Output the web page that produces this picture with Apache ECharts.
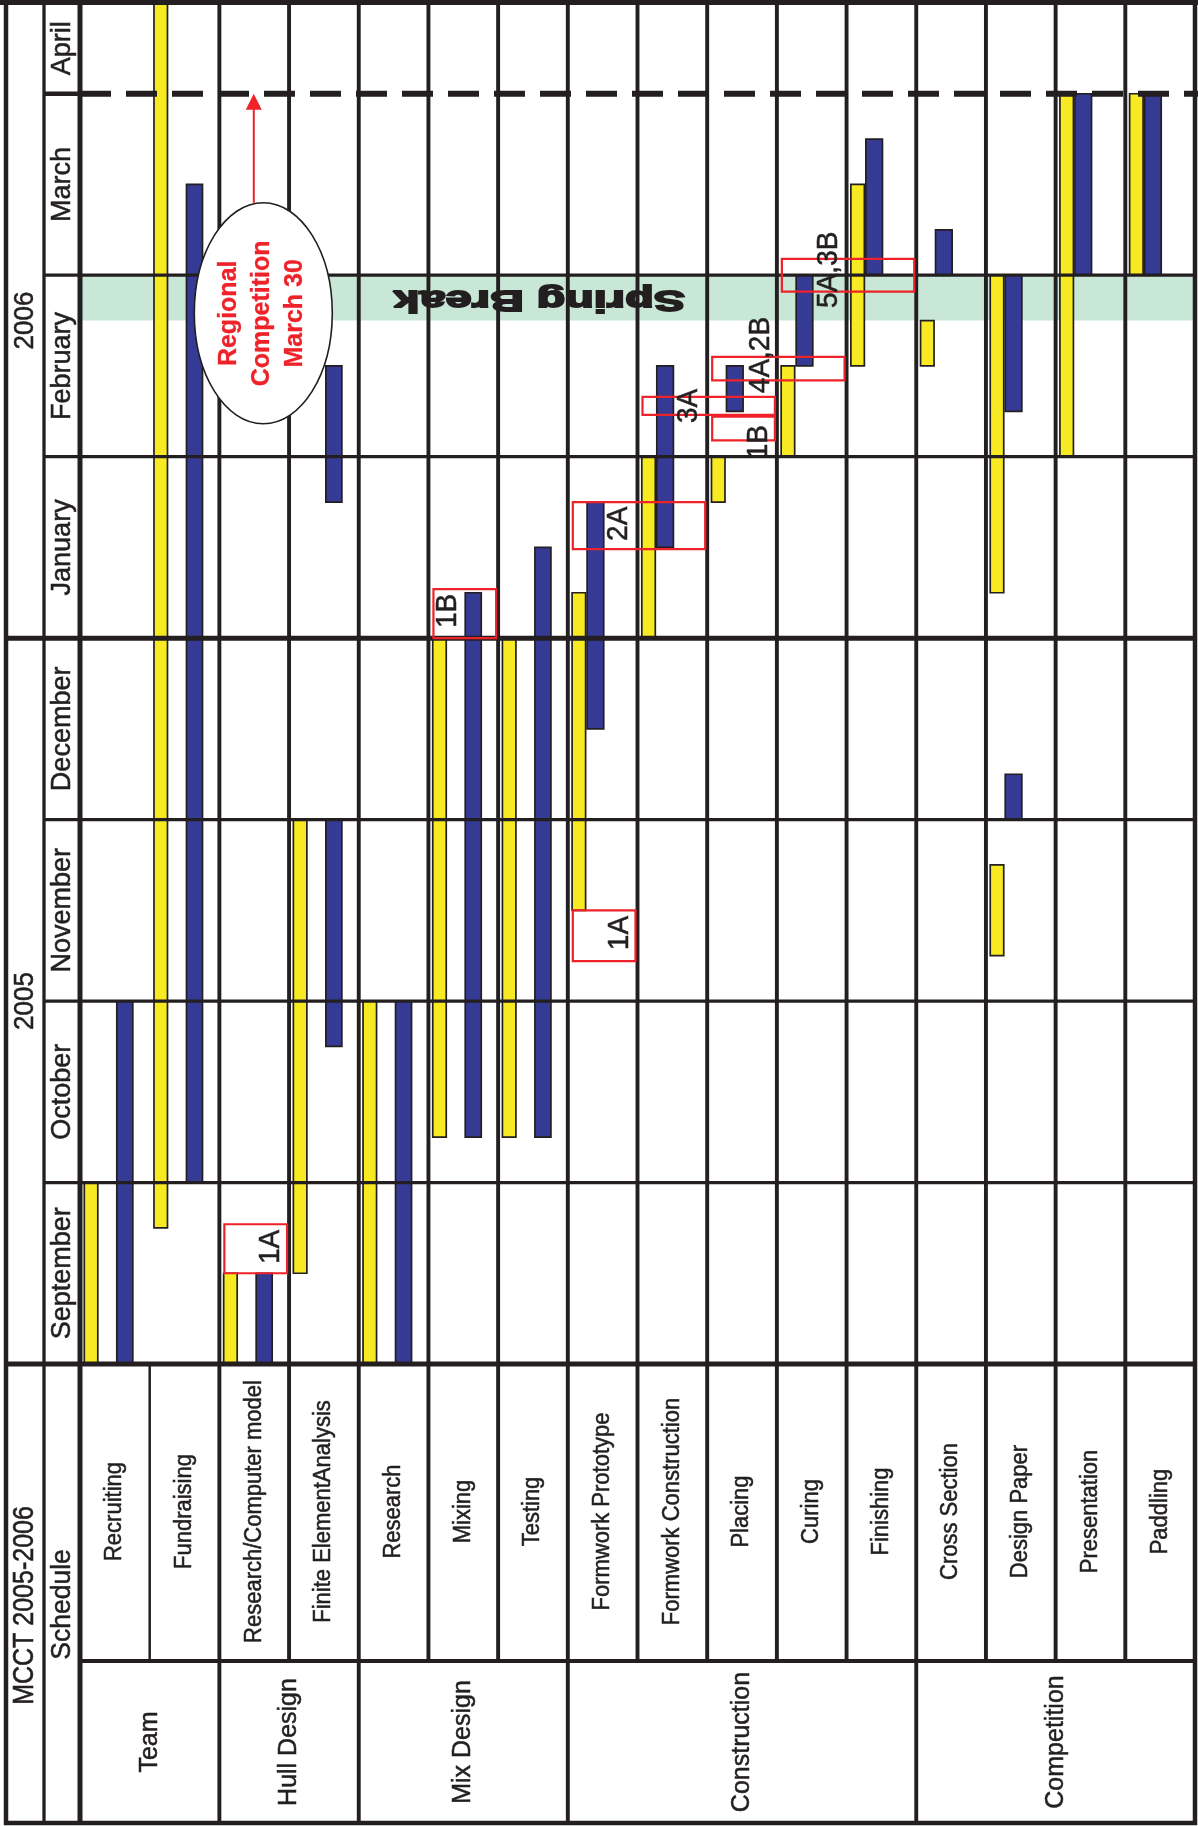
<!DOCTYPE html>
<html>
<head>
<meta charset="utf-8">
<script src="https://cdn.jsdelivr.net/npm/echarts@6.0.0/dist/echarts.min.js"></script>
<style>
html,body{margin:0;padding:0;background:#ffffff;}
#chart{width:1198px;height:1826px;}
</style>
</head>
<body>
<div id="chart"></div>
<script>
// ================= DATA =================
// time unit: months elapsed since 1 September 2005
const groups = ['Team', 'Hull Design', 'Mix Design', 'Construction', 'Competition'];
const groupSizes = [2, 2, 3, 5, 4];
const tasks = ['Recruiting', 'Fundraising', 'Research/Computer model', 'Finite ElementAnalysis',
  'Research', 'Mixing', 'Testing', 'Formwork Prototype', 'Formwork Construction', 'Placing',
  'Curing', 'Finishing', 'Cross Section', 'Design Paper', 'Presentation', 'Paddling'];
const months = ['September', 'October', 'November', 'December', 'January', 'February', 'March', 'April'];
const monthStarts = [0, 1, 2, 3, 4, 5, 6, 7];
const timeEnd = 7.5;
const years = ['2005', '2006'];
const yearSpans = [[0, 4], [4, 7.5]];
const title = 'MCCT 2005-2006';
const subtitle = 'Schedule';

// planned (yellow) bars: [task index, start, end]
const planned = [
  [0, 0, 1], [1, 0.75, 7.5], [2, 0, 0.5], [3, 0.5, 3], [4, 0, 2], [5, 1.25, 4], [6, 1.25, 4],
  [7, 2.5, 4.25], [8, 4, 5], [9, 4.75, 5], [10, 5, 5.5], [11, 5.5, 6.5], [12, 5.5, 5.75],
  [13, 2.25, 2.75], [13, 4.25, 6], [14, 5, 7], [15, 6, 7]
];
// actual (blue) bars: [task index, start, end]
const actual = [
  [0, 0, 2], [1, 1, 6.5], [2, 0, 0.5], [3, 1.75, 3], [3, 4.75, 5.5], [4, 0, 2], [5, 1.25, 4.25],
  [6, 1.25, 4.5], [7, 3.5, 4.75], [8, 4.5, 5.5], [9, 5.25, 5.5], [10, 5.5, 6], [11, 6, 6.75],
  [12, 6, 6.25], [13, 3, 3.25], [13, 5.25, 6], [14, 6, 7], [15, 6, 7]
];
const springBreak = [5.75, 6.0];
const springBreakLabel = 'Spring Break';
const competitionDay = 7.0;
const competitionLabel = 'Regional\nCompetition\nMarch 30';
const competitionNoteAt = [2.63, 5.79];

// milestone boxes
const noteLabels = ['1A', '1B', '1A', '2A', '3A', '1B', '4A,2B', '5A,3B'];
const noteRows = [[2, 2], [5, 5], [7, 7], [7, 8], [8, 9], [9, 9], [9, 10], [10, 11]];
const noteSpans = [[0.5, 0.77], [4.0, 4.27], [2.22, 2.5], [4.49, 4.75], [5.23, 5.33], [5.09, 5.22], [5.42, 5.55], [5.91, 6.09]];
const noteTextAt = [[2.74, 0.645], [5.28, 4.15], [7.75, 2.375], [7.73, 4.63], [8.74, 5.28], [9.74, 5.08], [9.77, 5.56], [10.75, 6.03]];

// ================= LAYOUT / STYLE =================
const W = 1198, H = 1826;
const X_OUT = 6, X_TITLE = 44, X_GRID = 80, X_RIGHT = 1195;
const Y_TOP = 3, Y_CHART = 1364, Y_SUB = 1661, Y_BOT = 1823;
const INK = '#231F20', YEL = '#F7EA22', BLU = '#353B95', RED = '#EE2229', BAND = '#C9E7D7';
const FONT = '"Liberation Sans", Arial, Helvetica, sans-serif';
const SPACED_GROUPS = 3;
const spacedRows = groupSizes.slice(0, SPACED_GROUPS).reduce((a, b) => a + b, 0);
const noChartDivider = [1];

const chart = echarts.init(document.getElementById('chart'), null, { renderer: 'canvas', width: W, height: H });

function barRenderer(kind) {
  return function (params, api) {
    const r = api.value(0);
    const p0 = api.coord([r, api.value(1)]);
    const p1 = api.coord([r, api.value(2)]);
    const L = p0[0];
    let x0, x1, fill;
    if (kind === 'plan') { x0 = L + 4.3; x1 = L + 17.8; fill = YEL; }
    else if (r < spacedRows) { x0 = L + 36.8; x1 = L + 52.8; fill = BLU; }
    else { x0 = L + 19.3; x1 = L + 35.9; fill = BLU; }
    return {
      type: 'rect',
      shape: { x: x0, y: p1[1], width: x1 - x0, height: p0[1] - p1[1] },
      style: { fill: fill, stroke: INK, lineWidth: 1.7 }
    };
  };
}

const noteData = noteLabels.map((t, i) => [noteRows[i][0], noteRows[i][1], noteSpans[i][0], noteSpans[i][1], noteTextAt[i][0], noteTextAt[i][1]]);

chart.setOption({
  backgroundColor: '#ffffff',
  animation: false,
  grid: { left: X_GRID, top: Y_TOP, width: X_RIGHT - X_GRID, height: Y_CHART - Y_TOP },
  xAxis: { type: 'value', min: 0, max: tasks.length, show: false },
  yAxis: { type: 'value', min: 0, max: timeEnd, show: false },
  series: [
    {
      type: 'custom', name: 'Spring Break', z: 1, silent: true,
      data: [springBreak], encode: { y: [0, 1] },
      renderItem: function (params, api) {
        const a = api.coord([0, api.value(1)]);
        const b = api.coord([tasks.length, api.value(0)]);
        return { type: 'rect', shape: { x: a[0], y: a[1], width: b[0] - a[0], height: b[1] - a[1] }, style: { fill: BAND } };
      }
    },
    { type: 'custom', name: 'Planned', z: 3, silent: true, data: planned, encode: { x: 0, y: [1, 2] }, renderItem: barRenderer('plan') },
    { type: 'custom', name: 'Actual', z: 3, silent: true, data: actual, encode: { x: 0, y: [1, 2] }, renderItem: barRenderer('act') },
    {
      type: 'custom', name: 'Milestones', z: 20, silent: true,
      data: noteData, encode: { x: [0, 1, 4], y: [2, 3, 5] },
      renderItem: function (params, api) {
        const i = params.dataIndex;
        const a = api.coord([api.value(0), api.value(3)]);
        const b = api.coord([api.value(1) + 1, api.value(2)]);
        const t = api.coord([api.value(4), api.value(5)]);
        return {
          type: 'group', children: [
            { type: 'rect', shape: { x: a[0] + 5, y: a[1], width: b[0] - a[0] - 7, height: b[1] - a[1] }, style: { fill: 'none', stroke: RED, lineWidth: 2.2 } },
            { type: 'text', x: t[0], y: t[1], rotation: Math.PI / 2, scaleY: 1.08, style: { text: noteLabels[i], fontSize: 28, fontFamily: FONT, fill: INK, stroke: INK, lineWidth: 0.5, align: 'center', verticalAlign: 'middle' } }
          ]
        };
      }
    }
  ]
});

// ================= TABLE STRUCTURE & TEXT =================
const px = (x, v) => chart.convertToPixel({ gridIndex: 0 }, [x, v]);
const rowX = i => px(i, 0)[0];
const vY = v => px(0, v)[1];
const g = [];
function line(x1, y1, x2, y2, w, dash, z) {
  g.push({ type: 'line', silent: true, z: z || 10, shape: { x1: x1, y1: y1, x2: x2, y2: y2 }, style: { stroke: INK, lineWidth: w, lineDash: dash || null, lineCap: 'butt' } });
}
function vtext(x, y, text, size, opts) {
  opts = opts || {};
  const fill = opts.fill || INK;
  g.push({
    type: 'text', silent: true, z: opts.z || 12, x: x, y: y, rotation: opts.rot !== undefined ? opts.rot : Math.PI / 2,
    scaleX: opts.sx || 1, scaleY: opts.sy || 1,
    style: { text: text, fontSize: size, fontFamily: FONT, fontWeight: opts.bold ? 'bold' : 'normal', fill: fill, stroke: fill, lineWidth: opts.sw !== undefined ? opts.sw : 0.5, align: 'center', verticalAlign: 'middle', lineHeight: opts.lh || size * 1.2 }
  });
}

// outer borders
line(0, 2.5, W, 2.5, 5);
line(X_OUT, 0, X_OUT, Y_BOT + 2, 4.5);
line(X_RIGHT, 0, X_RIGHT, Y_BOT + 2, 4.5);
line(X_OUT - 2, Y_BOT, X_RIGHT + 2, Y_BOT, 4.5);
line(X_TITLE, Y_TOP, X_TITLE, Y_BOT, 3.3);
line(X_GRID, Y_TOP, X_GRID, Y_BOT, 5);

// task dividers
const groupEdges = [];
groupSizes.reduce((acc, s) => { groupEdges.push(acc + s); return acc + s; }, 0);
for (let i = 1; i < tasks.length; i++) {
  const x = rowX(i);
  if (noChartDivider.indexOf(i) < 0) line(x, Y_TOP, x, Y_CHART, 3.9);
  if (groupEdges.indexOf(i) >= 0) line(x, Y_CHART, x, Y_BOT, 3.9);
  else line(x, Y_CHART, x, Y_SUB, noChartDivider.indexOf(i) >= 0 ? 2.5 : 3.9);
}
line(X_GRID, Y_SUB, X_RIGHT, Y_SUB, 4);

// month boundaries
monthStarts.forEach(v => {
  const y = vY(v);
  if (v === 0 || v === yearSpans[1][0]) line(X_OUT, y, X_RIGHT, y, 5);
  else if (v === competitionDay) line(X_TITLE, y, X_GRID, y, 4.5);
  else line(X_TITLE, y, X_RIGHT, y, 3.3);
});
// competition deadline (dashed)
line(X_GRID, vY(competitionDay), W, vY(competitionDay), 6, [31, 15], 14);

// month labels
months.forEach((m, k) => {
  const s = monthStarts[k], e = k + 1 < monthStarts.length ? monthStarts[k + 1] : timeEnd;
  vtext((X_TITLE + X_GRID) / 2 + 0.5, vY((s + e) / 2), m, 27, { sy: 1.05 });
});
years.forEach((y, k) => vtext((X_OUT + X_TITLE) / 2, vY((yearSpans[k][0] + yearSpans[k][1]) / 2), y, 26, { sy: 1.05 }));
vtext((X_OUT + X_TITLE) / 2, (Y_CHART + Y_BOT) / 2 + 12, title, 25, { sy: 1.15 });
vtext((X_TITLE + X_GRID) / 2 + 0.5, (Y_CHART + Y_BOT) / 2 + 11, subtitle, 26.5, { sy: 1.05 });

// task labels
tasks.forEach((t, i) => vtext(rowX(i + 0.5), (Y_CHART + Y_SUB) / 2 - 1, t, 22, { sy: 1.05 }));
// group labels
let acc = 0;
groups.forEach((gname, k) => {
  vtext(rowX(acc + groupSizes[k] / 2), (Y_SUB + Y_BOT) / 2, gname, 25);
  acc += groupSizes[k];
});

// spring break label
const sb = px(6.59, (springBreak[0] + springBreak[1]) / 2);
vtext(sb[0], sb[1] + 1, springBreakLabel, 30, { rot: Math.PI, bold: true, sx: 1.56, sw: 1.8, z: 11 });

// competition callout
const cc = px(competitionNoteAt[0], competitionNoteAt[1]);
const RX = 69, RY = 110.5;
g.push({ type: 'ellipse', silent: true, z: 30, shape: { cx: cc[0], cy: cc[1], rx: RX, ry: RY }, style: { fill: '#ffffff', stroke: INK, lineWidth: 1.6 } });
const ax = cc[0] - 9.5, tipY = vY(competitionDay);
g.push({ type: 'line', silent: true, z: 31, shape: { x1: ax, y1: cc[1] - RY, x2: ax, y2: tipY + 14 }, style: { stroke: RED, lineWidth: 2 } });
g.push({ type: 'polygon', silent: true, z: 31, shape: { points: [[ax, tipY], [ax - 8, tipY + 16], [ax + 8, tipY + 16]] }, style: { fill: RED } });
vtext(cc[0] - 1, cc[1], competitionLabel, 25, { bold: true, fill: RED, lh: 33, sw: 0.3, z: 32 });

chart.setOption({ graphic: { elements: g } });
</script>
</body>
</html>
